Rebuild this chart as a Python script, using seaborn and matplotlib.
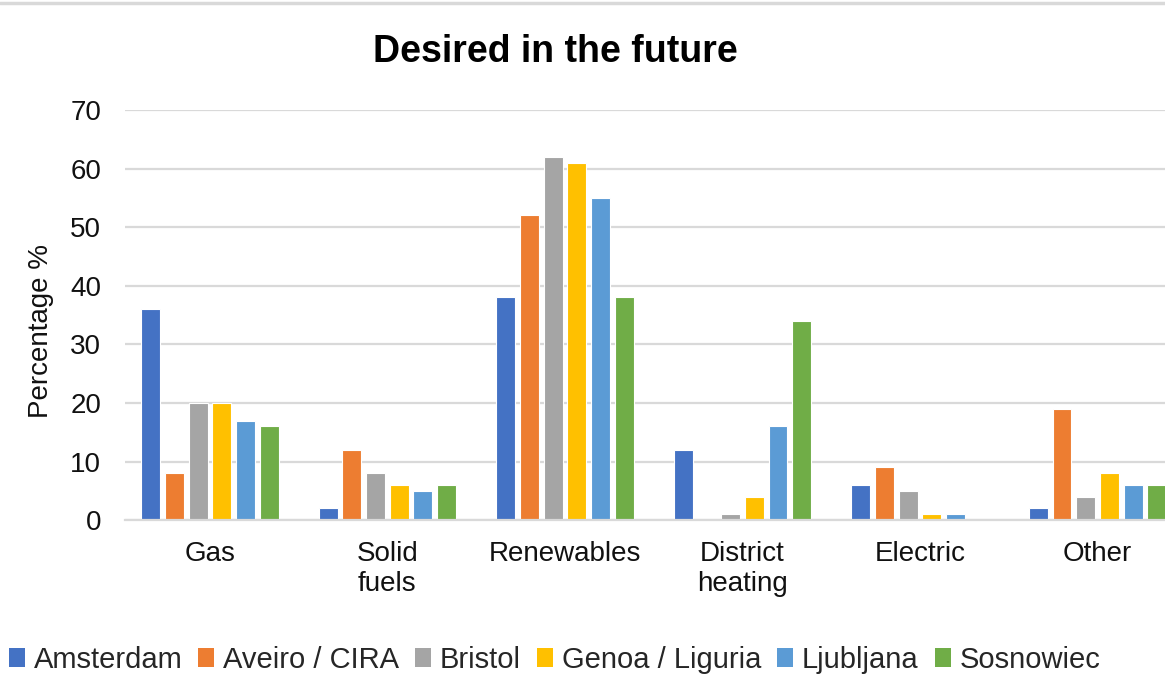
import matplotlib
matplotlib.use("Agg")
import matplotlib.pyplot as plt
from matplotlib.lines import Line2D
from matplotlib.patches import Patch
import seaborn as sns
import pandas as pd

categories = ["Gas", "Solid\nfuels", "Renewables", "District\nheating", "Electric", "Other"]
cities = ["Amsterdam", "Aveiro / CIRA", "Bristol", "Genoa / Liguria", "Ljubljana", "Sosnowiec"]

amsterdam = [36, 2, 38, 12, 6, 2]
aveiro = [8, 12, 52, 0, 9, 19]
bristol = [20, 8, 62, 1, 5, 4]
genoa = [20, 6, 61, 4, 1, 8]
ljubljana = [17, 5, 55, 16, 1, 6]
sosnowiec = [16, 6, 38, 34, 0, 6]

colors = ["#4472C4", "#ED7D31", "#A5A5A5", "#FFC000", "#5B9BD5", "#70AD47"]

series = [amsterdam, aveiro, bristol, genoa, ljubljana, sosnowiec]
rows = []
for city, vals in zip(cities, series):
    for cat, v in zip(categories, vals):
        rows.append({"Category": cat, "City": city, "Value": v})
df = pd.DataFrame(rows)

sns.set_theme(style="white")
plt.rcParams["font.family"] = ["Liberation Sans", "DejaVu Sans"]

fig = plt.figure(figsize=(11.65, 6.79), dpi=100)
ax = fig.add_axes([0.107, 0.234, 0.893, 0.604])

sns.barplot(data=df, x="Category", y="Value", hue="City", order=categories,
            hue_order=cities, palette=colors, saturation=1, width=0.8, gap=0.2,
            edgecolor="white", linewidth=0.8, ax=ax, legend=False)

ax.set_ylim(0, 70)
ax.set_yticks(range(0, 71, 10))
ax.set_xlim(-0.48, 5.38)
ax.yaxis.grid(True, color="#D9D9D9", linewidth=1.6)
ax.set_axisbelow(True)
for side in ["top", "right", "left"]:
    ax.spines[side].set_visible(False)
ax.spines["bottom"].set_color("#D9D9D9")
ax.spines["bottom"].set_linewidth(1.6)
ax.tick_params(axis="both", length=0, labelsize=20, colors="#111111")
ax.tick_params(axis="y", pad=17)
ax.tick_params(axis="x", pad=15)
ax.set_xlabel("")
ax.set_ylabel("Percentage %", fontsize=20, color="#111111")
ax.yaxis.set_label_coords(-0.068, 0.46)

fig.suptitle("Desired in the future", fontsize=27, fontweight="bold", color="black",
             y=0.95, x=0.477)

handles = [Patch(facecolor=c, edgecolor="none") for c in colors]
fig.legend(handles, cities, loc="center", bbox_to_anchor=(0.476, 0.028), ncol=6,
           frameon=False, fontsize=21, handlelength=0.55, handleheight=0.6,
           handletextpad=0.3, columnspacing=0.55)

fig.add_artist(Line2D([0, 1], [0.995, 0.995], color="#D9D9D9", linewidth=2.5,
                      transform=fig.transFigure))

fig.savefig("out.png", dpi=100)
